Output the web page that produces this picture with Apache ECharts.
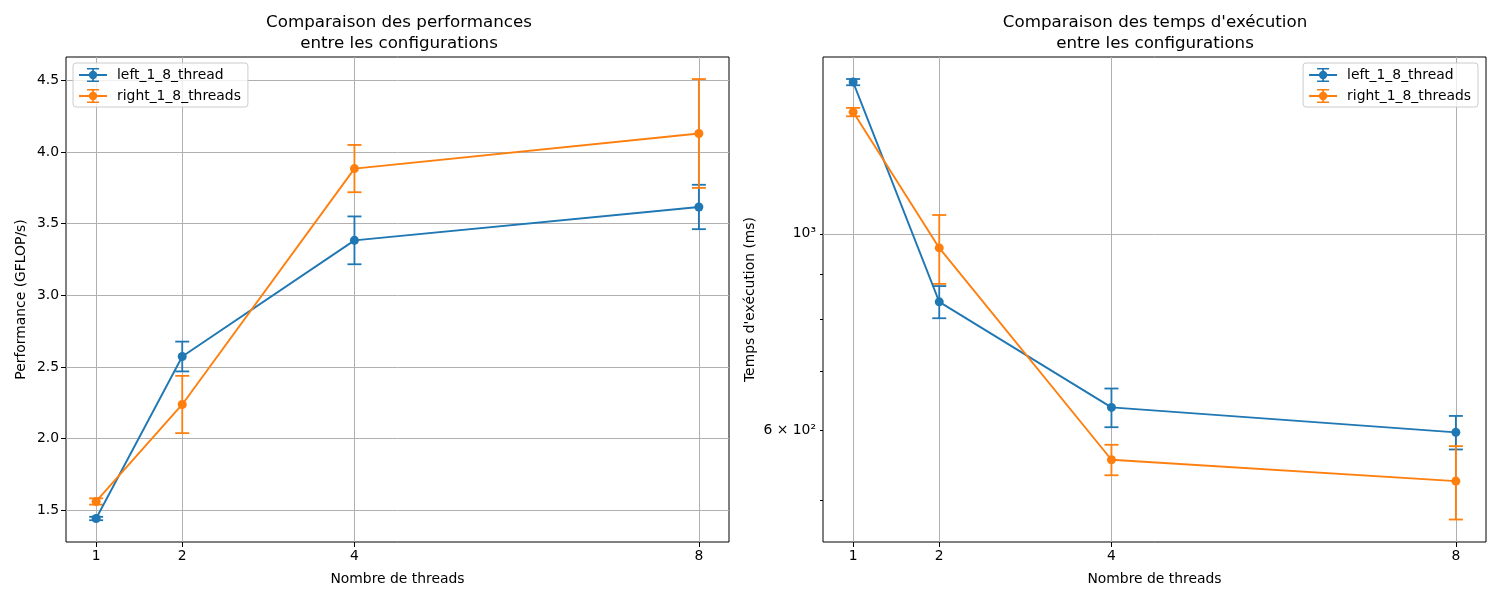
<!DOCTYPE html>
<html>
<head>
    <meta charset="utf-8">
    <title>Comparaison des configurations</title>
    <script src="https://cdn.jsdelivr.net/npm/echarts@6/dist/echarts.min.js"></script>
    <style>
        body { margin: 0; background: #fff; }
        #main { width: 1500px; height: 600px; }
    </style>
</head>
<body>
<div id="main"></div>
<script type="text/javascript">
    // données
    var threads = [1, 2, 4, 8];
    var seriesNames = ['left_1_8_thread', 'right_1_8_threads'];

    // performance (GFLOP/s)
    var perfLeft = [1.442, 2.573, 3.384, 3.617];
    var perfLeftErr = [0.012, 0.104, 0.167, 0.155];
    var perfRight = [1.561, 2.238, 3.885, 4.130];
    var perfRightErr = [0.022, 0.200, 0.165, 0.380];

    // temps d'exécution (ms)
    var timeLeft = [1483, 838, 637, 597];
    var timeLeftErr = [12, 35, 32, 26];
    var timeRight = [1372, 964, 556, 526];
    var timeRightErr = [15, 86, 22, 50];

    // graduations
    var perfTicks = [1.5, 2.0, 2.5, 3.0, 3.5, 4.0, 4.5];
    var timeLabels = [600, 1000];
    var timeMinorTicks = [500, 600, 700, 800, 900, 1000];

    var colors = ['#1f77b4', '#ff7f0e'];
    var font = 'DejaVu Sans';

    // icône de légende : ligne + marqueur + barre d'erreur
    var errIcon = 'path://M0,6.1 L28,6.1 L28,7.9 L0,7.9 Z ' +
        'M13.1,0 L14.9,0 L14.9,14 L13.1,14 Z ' +
        'M8,0 L20,0 L20,1.6 L8,1.6 Z ' +
        'M8,12.4 L20,12.4 L20,14 L8,14 Z ' +
        'M18.2,7 A4.2,4.2 0 1 1 9.8,7 A4.2,4.2 0 1 1 18.2,7 Z';

    function pairs(xs, ys) {
        return xs.map(function (x, i) { return [x, ys[i]]; });
    }
    function triples(xs, ys, es) {
        return xs.map(function (x, i) { return [x, ys[i], es[i]]; });
    }

    // barres d'erreur façon matplotlib
    function errorBars(color) {
        return function (params, api) {
            var x = api.value(0), y = api.value(1), e = api.value(2);
            var hi = api.coord([x, y + e]);
            var lo = api.coord([x, y - e]);
            var cap = 7;
            var style = { stroke: color, lineWidth: 1.8 };
            return {
                type: 'group',
                children: [
                    { type: 'line', shape: { x1: hi[0], y1: hi[1], x2: lo[0], y2: lo[1] }, style: style },
                    { type: 'line', shape: { x1: hi[0] - cap, y1: hi[1], x2: hi[0] + cap, y2: hi[1] }, style: style },
                    { type: 'line', shape: { x1: lo[0] - cap, y1: lo[1], x2: lo[0] + cap, y2: lo[1] }, style: style }
                ]
            };
        };
    }

    function lineSeries(name, idx, data, color) {
        return {
            name: name,
            type: 'line',
            xAxisIndex: idx,
            yAxisIndex: idx,
            data: data,
            symbol: 'circle',
            symbolSize: 9,
            showSymbol: true,
            itemStyle: { color: color },
            lineStyle: { color: color, width: 1.9 },
            z: 3
        };
    }
    function errSeries(name, idx, data, color) {
        return {
            name: name,
            type: 'custom',
            xAxisIndex: idx,
            yAxisIndex: idx,
            data: data,
            encode: { x: 0, y: 1 },
            renderItem: errorBars(color),
            itemStyle: { color: color },
            z: 2
        };
    }

    var axisText = { color: '#000', fontFamily: font, fontSize: 13.9 };
    var gridLine = { show: true, lineStyle: { color: '#b0b0b0', width: 1 } };

    function xAxisFor(idx) {
        return {
            type: 'value',
            gridIndex: idx,
            min: 0.65,
            max: 8.35,
            name: 'Nombre de threads',
            nameLocation: 'middle',
            nameGap: 30,
            nameTextStyle: axisText,
            axisLine: { show: false },
            axisTick: { show: true, length: 5, customValues: threads, lineStyle: { color: '#000' } },
            axisLabel: Object.assign({ customValues: threads, margin: 7 }, axisText),
            splitLine: gridLine
        };
    }

    var grids = [
        { left: 66, top: 57, width: 663, height: 485 },
        { left: 823, top: 57, width: 663, height: 485 }
    ];
    grids.forEach(function (g) {
        g.show = true;
        g.borderColor = '#000';
        g.borderWidth = 1;
        g.backgroundColor = 'transparent';
        g.containLabel = false;
    });

    function legendFor(pos) {
        return Object.assign({
            orient: 'vertical',
            top: 63,
            data: seriesNames,
            icon: errIcon,
            itemWidth: 28,
            itemHeight: 14,
            itemGap: 7,
            padding: [5, 7, 4, 6],
            backgroundColor: 'rgba(255,255,255,0.8)',
            borderColor: '#cccccc',
            borderWidth: 1,
            borderRadius: 3,
            textStyle: Object.assign({ padding: [0, 0, 0, 5] }, axisText)
        }, pos);
    }

    var titleStyle = { color: '#000', fontFamily: font, fontSize: 16.7, fontWeight: 'normal', lineHeight: 21 };

    var myChart = echarts.init(document.getElementById('main'));
    var option = {
        animation: false,
        backgroundColor: '#fff',
        title: [
            { text: 'Comparaison des performances\nentre les configurations', left: 394, top: 7, textAlign: 'center', textStyle: titleStyle },
            { text: "Comparaison des temps d'exécution\nentre les configurations", left: 1150, top: 7, textAlign: 'center', textStyle: titleStyle }
        ],
        legend: [
            legendFor({ left: 73 }),
            legendFor({ right: 22 })
        ],
        grid: grids,
        xAxis: [xAxisFor(0), xAxisFor(1)],
        yAxis: [
            {
                type: 'value',
                gridIndex: 0,
                min: 1.278,
                max: 4.664,
                name: 'Performance (GFLOP/s)',
                nameLocation: 'middle',
                nameGap: 38,
                nameTextStyle: axisText,
                axisLine: { show: false },
                axisTick: { show: true, length: 5, customValues: perfTicks, lineStyle: { color: '#000' } },
                axisLabel: Object.assign({
                    customValues: perfTicks,
                    margin: 7,
                    formatter: function (v) { return v.toFixed(1); }
                }, axisText),
                splitLine: gridLine
            },
            {
                type: 'log',
                logBase: 10,
                gridIndex: 1,
                min: 449,
                max: 1583,
                name: "Temps d'exécution (ms)",
                nameLocation: 'middle',
                nameGap: 66,
                nameTextStyle: axisText,
                axisLine: { show: false },
                axisTick: { show: true, length: 3, customValues: timeMinorTicks, lineStyle: { color: '#000' } },
                axisLabel: Object.assign({
                    customValues: timeLabels,
                    margin: 7,
                    formatter: function (v) { return Math.round(v) === 1000 ? '10³' : '6 × 10²'; }
                }, axisText),
                splitLine: { show: false }
            }
        ],
        series: [
            lineSeries(seriesNames[0], 0, pairs(threads, perfLeft), colors[0]),
            lineSeries(seriesNames[1], 0, pairs(threads, perfRight), colors[1]),
            errSeries(seriesNames[0], 0, triples(threads, perfLeft, perfLeftErr), colors[0]),
            errSeries(seriesNames[1], 0, triples(threads, perfRight, perfRightErr), colors[1]),
            Object.assign(lineSeries(seriesNames[0], 1, pairs(threads, timeLeft), colors[0]), {
                markLine: {
                    silent: true,
                    symbol: 'none',
                    label: { show: false },
                    lineStyle: { color: '#b0b0b0', width: 1, type: 'solid' },
                    data: [{ yAxis: 1000 }],
                    z: 1
                }
            }),
            lineSeries(seriesNames[1], 1, pairs(threads, timeRight), colors[1]),
            errSeries(seriesNames[0], 1, triples(threads, timeLeft, timeLeftErr), colors[0]),
            errSeries(seriesNames[1], 1, triples(threads, timeRight, timeRightErr), colors[1])
        ]
    };
    myChart.setOption(option);
</script>
</body>
</html>
